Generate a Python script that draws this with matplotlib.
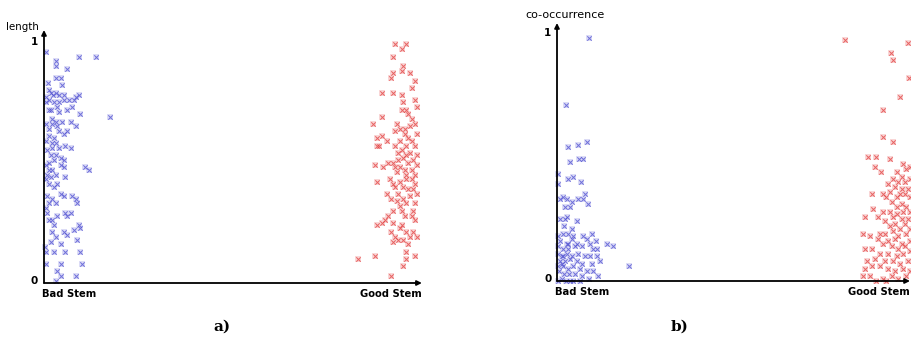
import matplotlib
matplotlib.use("Agg")
import matplotlib.pyplot as plt

# panel a) "length": x is position along the axis (0..100), y is the value
a_bad_x = [0.6, 3.3, 9.3, 13.7, 6.0, 3.1, 3.1, 4.4, 1.1, 4.9, 1.3, 1.8, 2.4, 3.3, 4.0, 5.3, 9.3, 8.6,
           7.9, 6.6, 5.3, 4.0, 2.6, 1.3, 0.4, 0.4, 1.8, 3.5, 1.3, 4.0, 6.2, 7.5, 9.7, 17.6, 2.2, 3.1,
           4.9, 7.1, 2.2, 3.5, 0.4, 1.3, 6.2, 8.4, 4.0, 5.3, 1.3, 2.6, 0.4, 2.2, 3.1, 4.0, 5.7, 7.1,
           2.2, 0.9, 1.8, 3.1, 4.4, 5.3, 2.6, 1.3, 0.4, 4.4, 5.3, 11.0, 12.1, 1.3, 2.2, 0.9, 3.1, 1.8,
           5.7, 0.4, 1.3, 3.5, 2.6, 4.4, 5.3, 7.5, 8.6, 8.8, 0.9, 2.2, 1.3, 3.1, 0.4, 0.9, 3.5, 5.7,
           7.1, 6.2, 1.3, 2.2, 2.6, 9.3, 9.7, 7.9, 2.2, 5.3, 6.2, 3.1, 8.8, 1.8, 4.4, 0.2, 2.6, 0.4,
           5.7, 9.7, 4.4, 10.1, 0.4, 3.5, 8.4, 4.4, 3.1]
a_bad_y = [0.96, 0.92, 0.94, 0.94, 0.89, 0.90, 0.85, 0.85, 0.83, 0.82, 0.80, 0.79, 0.78, 0.79, 0.78,
           0.78, 0.78, 0.77, 0.76, 0.76, 0.76, 0.75, 0.75, 0.76, 0.77, 0.75, 0.72, 0.73, 0.72, 0.71,
           0.72, 0.73, 0.70, 0.69, 0.68, 0.67, 0.67, 0.67, 0.66, 0.65, 0.66, 0.64, 0.63, 0.65, 0.63,
           0.62, 0.61, 0.60, 0.59, 0.58, 0.58, 0.56, 0.57, 0.56, 0.56, 0.55, 0.53, 0.53, 0.52, 0.51,
           0.51, 0.50, 0.49, 0.49, 0.48, 0.48, 0.47, 0.47, 0.47, 0.45, 0.45, 0.44, 0.44, 0.43, 0.41,
           0.41, 0.40, 0.37, 0.36, 0.36, 0.35, 0.33, 0.36, 0.35, 0.33, 0.33, 0.31, 0.29, 0.28, 0.29,
           0.29, 0.28, 0.26, 0.26, 0.24, 0.24, 0.23, 0.22, 0.21, 0.21, 0.20, 0.19, 0.18, 0.17, 0.16,
           0.15, 0.13, 0.13, 0.13, 0.13, 0.08, 0.08, 0.08, 0.05, 0.03, 0.03, 0.01]
a_good_x = [93.3, 96.4, 95.1, 92.9, 95.5, 92.7, 95.1, 97.3, 92.2, 98.6, 97.8, 89.8, 92.9, 95.1, 98.6,
            95.5, 96.4, 99.1, 95.1, 90.0, 96.9, 97.8, 87.6, 93.8, 94.7, 96.0, 97.3, 98.6, 93.3, 89.8,
            88.6, 96.0, 99.1, 91.1, 94.7, 96.9, 97.8, 88.5, 89.2, 93.3, 96.4, 98.6, 95.1, 97.3, 94.2,
            96.4, 99.1, 88.0, 91.6, 92.9, 94.2, 95.5, 96.9, 98.2, 99.1, 90.2, 93.3, 94.7, 96.0, 97.8,
            93.8, 96.4, 98.6, 88.6, 92.0, 92.9, 94.7, 96.4, 97.8, 98.6, 93.3, 95.5, 96.9, 98.2, 99.1,
            91.1, 94.2, 92.4, 95.5, 97.3, 93.8, 94.7, 96.4, 98.6, 92.9, 95.1, 98.2, 91.6, 96.0, 97.8,
            90.7, 89.8, 88.5, 92.9, 95.1, 98.6, 94.7, 92.4, 96.4, 98.2, 93.3, 97.3, 95.5, 99.1, 92.9,
            94.2, 96.9, 96.4, 98.6, 83.6, 88.0, 96.4, 95.4, 92.2]
a_good_y = [0.99, 0.99, 0.97, 0.94, 0.90, 0.87, 0.88, 0.87, 0.85, 0.84, 0.81, 0.79, 0.79, 0.78, 0.76,
            0.75, 0.72, 0.73, 0.72, 0.69, 0.70, 0.68, 0.66, 0.66, 0.64, 0.64, 0.65, 0.66, 0.63, 0.61,
            0.60, 0.62, 0.62, 0.59, 0.59, 0.60, 0.59, 0.57, 0.57, 0.57, 0.57, 0.57, 0.55, 0.54, 0.54,
            0.53, 0.53, 0.49, 0.50, 0.50, 0.51, 0.52, 0.50, 0.51, 0.49, 0.48, 0.48, 0.48, 0.47, 0.47,
            0.46, 0.45, 0.45, 0.42, 0.43, 0.41, 0.42, 0.43, 0.43, 0.41, 0.40, 0.40, 0.39, 0.39, 0.37,
            0.37, 0.37, 0.35, 0.35, 0.36, 0.34, 0.32, 0.33, 0.33, 0.30, 0.30, 0.30, 0.28, 0.28, 0.28,
            0.26, 0.25, 0.24, 0.25, 0.24, 0.26, 0.23, 0.21, 0.21, 0.21, 0.19, 0.19, 0.18, 0.19, 0.17,
            0.18, 0.16, 0.13, 0.11, 0.10, 0.11, 0.10, 0.07, 0.03]

# panel b) "co-occurrence"
b_bad_x = [9.0, 2.5, 3.0, 6.0, 8.4, 3.7, 6.3, 7.3, 0.4, 3.2, 4.4, 6.7, 0.4, 0.8, 1.8, 2.9, 4.2, 6.0,
           7.5, 7.9, 8.9, 2.3, 3.7, 0.8, 2.3, 2.7, 4.2, 2.0, 5.8, 0.4, 1.8, 3.2, 4.6, 7.3, 8.6, 9.8,
           0.8, 2.7, 4.2, 5.6, 9.3, 11.0, 14.1, 15.8, 0.4, 1.8, 3.2, 5.1, 7.0, 10.3, 11.4, 0.4, 1.3,
           2.7, 4.2, 6.0, 7.9, 9.3, 11.2, 0.8, 2.3, 3.7, 5.6, 7.0, 9.8, 12.2, 20.5, 0.4, 1.8, 3.2,
           4.6, 6.5, 8.4, 10.3, 11.7, 0.7, 2.0, 3.5, 5.1, 7.0, 9.2, 1.3, 3.7, 4.6, 6.5, 2.5, 0.4,
           1.3, 1.8, 3.2]
b_bad_y = [0.98, 0.71, 0.54, 0.55, 0.56, 0.48, 0.49, 0.49, 0.43, 0.41, 0.42, 0.40, 0.39, 0.33, 0.34,
           0.33, 0.32, 0.33, 0.33, 0.35, 0.31, 0.30, 0.30, 0.25, 0.25, 0.26, 0.21, 0.22, 0.24, 0.18,
           0.19, 0.19, 0.18, 0.18, 0.17, 0.19, 0.16, 0.15, 0.17, 0.15, 0.15, 0.16, 0.15, 0.14, 0.14,
           0.13, 0.13, 0.14, 0.14, 0.13, 0.13, 0.11, 0.10, 0.11, 0.10, 0.11, 0.10, 0.10, 0.10, 0.08,
           0.08, 0.09, 0.08, 0.07, 0.07, 0.08, 0.06, 0.06, 0.06, 0.05, 0.06, 0.05, 0.04, 0.04, 0.02,
           0.04, 0.03, 0.03, 0.03, 0.02, 0.01, 0.01, 0.00, 0.00, 0.00, 0.00, 0.00, 0.07, 0.10, 0.15]
b_good_x = [81.5, 99.5, 94.5, 95.2, 99.8, 97.1, 92.4, 92.4, 95.2, 88.1, 90.5, 94.3, 90.0, 91.9, 98.1,
            99.9, 99.0, 96.2, 97.6, 95.2, 93.8, 96.6, 98.5, 99.9, 95.7, 97.6, 99.5, 94.3, 97.1, 98.5,
            89.1, 92.4, 93.3, 96.2, 99.9, 94.8, 97.6, 96.2, 99.0, 89.6, 92.4, 94.3, 96.2, 98.1, 99.9,
            87.2, 91.0, 95.2, 97.6, 99.5, 92.9, 95.7, 98.5, 94.3, 97.1, 99.9, 86.7, 88.6, 91.5, 92.9,
            95.2, 96.6, 99.0, 91.0, 93.8, 95.7, 97.6, 99.9, 92.4, 94.8, 98.5, 87.2, 89.1, 96.6, 91.5,
            93.8, 96.2, 98.1, 99.9, 87.7, 90.0, 92.9, 95.2, 97.1, 99.5, 87.2, 89.1, 91.5, 93.8, 95.7,
            98.1, 99.9, 86.7, 88.6, 92.4, 94.8, 96.6, 99.0, 93.3, 90.5]
b_good_y = [0.97, 0.96, 0.92, 0.89, 0.82, 0.74, 0.69, 0.58, 0.56, 0.50, 0.50, 0.49, 0.46, 0.44, 0.47,
            0.46, 0.45, 0.44, 0.42, 0.41, 0.39, 0.40, 0.40, 0.41, 0.38, 0.37, 0.37, 0.36, 0.35, 0.35,
            0.35, 0.35, 0.34, 0.34, 0.34, 0.32, 0.31, 0.30, 0.30, 0.29, 0.28, 0.28, 0.27, 0.28, 0.28,
            0.26, 0.26, 0.26, 0.25, 0.25, 0.24, 0.23, 0.23, 0.22, 0.21, 0.21, 0.19, 0.18, 0.19, 0.19,
            0.20, 0.18, 0.19, 0.17, 0.16, 0.17, 0.15, 0.16, 0.15, 0.14, 0.14, 0.13, 0.13, 0.13, 0.11,
            0.11, 0.10, 0.11, 0.12, 0.08, 0.09, 0.08, 0.08, 0.07, 0.08, 0.05, 0.06, 0.06, 0.05, 0.04,
            0.05, 0.04, 0.02, 0.02, 0.01, 0.02, 0.01, 0.02, 0.00, 0.00]

BLUE = "#4a4ad0"
RED = "#e23a3a"
BLUE_BG = "#dcdcf6"
RED_BG = "#f9d6d6"

fig = plt.figure(figsize=(9.12, 3.41), dpi=100)

panels = [
    dict(rect=[44 / 912, 58 / 341, 376 / 912, 253 / 341], ytop=1.05, xend=100.5,
         bad=(a_bad_x, a_bad_y), good=(a_good_x, a_good_y), ylabel="length",
         ylab_xy=(22, 27), lab_size=7.4, caption="a)", cap_x=222),
    dict(rect=[557 / 912, 60 / 341, 353 / 912, 258 / 341], ytop=1.04, xend=100,
         bad=(b_bad_x, b_bad_y), good=(b_good_x, b_good_y), ylabel="co-occurrence",
         ylab_xy=(565, 15), lab_size=8, caption="b)", cap_x=680),
]

for p in panels:
    ax = fig.add_axes(p["rect"])
    ax.set_xlim(0, 100)
    ax.set_ylim(0, p["ytop"])
    ax.axis("off")

    # faint square halo under each cross, like the blurry original
    for (xs, ys), fg, bg in [(p["bad"], BLUE, BLUE_BG), (p["good"], RED, RED_BG)]:
        ax.scatter(xs, ys, marker="s", s=16, color=bg, linewidths=0, clip_on=False, zorder=1)
        ax.scatter(xs, ys, marker="x", s=10, linewidths=0.7, color=fg, alpha=0.75,
                   clip_on=False, zorder=2)

    arrow = dict(arrowstyle="-|>", color="black", lw=1.3, mutation_scale=7,
                 shrinkA=0, shrinkB=0)
    ax.annotate("", xy=(0, p["ytop"]), xytext=(0, 0), arrowprops=arrow, annotation_clip=False)
    ax.annotate("", xy=(p["xend"], 0), xytext=(0, 0), arrowprops=arrow, annotation_clip=False)

    ax.text(-1.6, 1, "1", ha="right", va="center", fontsize=7.5, fontweight="bold")
    ax.text(-1.6, 0.01, "0", ha="right", va="center", fontsize=7.5, fontweight="bold")
    ax.text(-0.5, -0.045, "Bad Stem", ha="left", va="center", fontsize=7.2, fontweight="bold")
    ax.text(p["xend"], -0.045, "Good Stem", ha="right", va="center", fontsize=7.2,
            fontweight="bold")

    fig.text(p["ylab_xy"][0] / 912, 1 - p["ylab_xy"][1] / 341, p["ylabel"],
             ha="center", va="center", fontsize=p["lab_size"])
    fig.text(p["cap_x"] / 912, 1 - 327 / 341, p["caption"], ha="center", va="center",
             fontsize=11, fontweight="bold", family="DejaVu Serif")

fig.savefig("out.png", dpi=100)
